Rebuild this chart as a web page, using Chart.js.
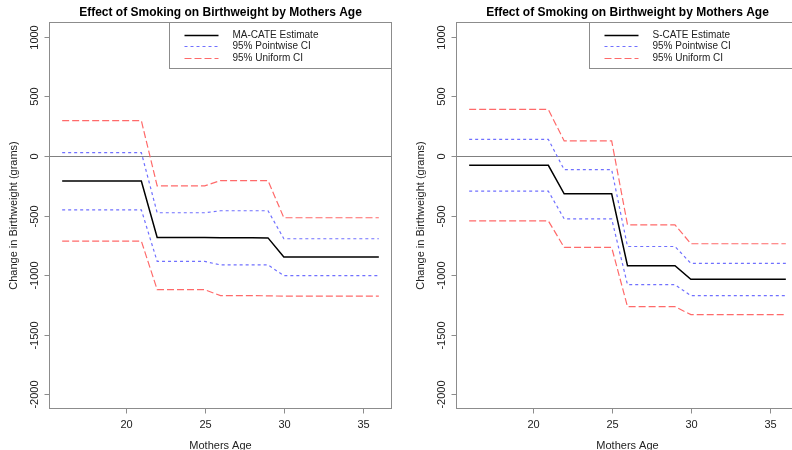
<!DOCTYPE html>
<html>
<head>
<meta charset="utf-8">
<script src="https://cdn.jsdelivr.net/npm/chart.js@4/dist/chart.umd.min.js"></script>
<style>
  html, body { margin: 0; padding: 0; background: #fff; overflow: hidden; }
  #wrap { position: relative; width: 814px; height: 450px; }
  canvas { position: absolute; top: 0; }
</style>
</head>
<body>
<div id="wrap">
  <canvas id="left" width="407" height="450" style="left:0"></canvas>
  <canvas id="right" width="407" height="450" style="left:407px"></canvas>
</div>
<script>
// mothers age, one point per year
const ages = [16, 17, 18, 19, 20, 21, 22, 23, 24, 25, 26, 27, 28, 29, 30, 31, 32, 33, 34, 35, 36];

// MA-CATE panel
const maEstimate = [-210, -210, -210, -210, -210, -210, -684, -684, -685, -685, -686, -686, -687, -688, -849, -849, -849, -849, -849, -849, -849];
const maPointUpper = [28, 28, 28, 28, 28, 28, -477, -477, -477, -477, -460, -460, -460, -460, -695, -695, -695, -695, -695, -695, -695];
const maPointLower = [-452, -452, -452, -452, -452, -452, -885, -885, -885, -885, -915, -915, -915, -915, -1005, -1005, -1005, -1005, -1005, -1005, -1005];
const maUnifUpper = [296, 296, 296, 296, 296, 296, -251, -251, -251, -251, -207, -207, -207, -207, -519, -519, -519, -519, -519, -519, -519];
const maUnifLower = [-715, -715, -715, -715, -715, -715, -1122, -1122, -1122, -1122, -1173, -1173, -1173, -1174, -1177, -1177, -1177, -1177, -1177, -1177, -1177];

// S-CATE panel
const sEstimate = [-79, -79, -79, -79, -79, -79, -318, -318, -318, -318, -921, -921, -921, -921, -1036, -1036, -1036, -1036, -1036, -1036, -1036];
const sPointUpper = [139, 139, 139, 139, 139, 139, -115, -115, -115, -115, -760, -760, -760, -760, -902, -902, -902, -902, -902, -902, -902];
const sPointLower = [-296, -296, -296, -296, -296, -296, -528, -528, -528, -528, -1081, -1081, -1081, -1081, -1173, -1173, -1173, -1173, -1173, -1173, -1173];
const sUnifUpper = [390, 390, 390, 390, 390, 390, 126, 126, 126, 126, -578, -578, -578, -578, -737, -737, -737, -737, -737, -737, -737];
const sUnifLower = [-545, -545, -545, -545, -545, -545, -768, -768, -768, -768, -1265, -1265, -1265, -1265, -1332, -1332, -1332, -1332, -1332, -1332, -1332];

const xTicks = [20, 25, 30, 35];
const yTicks = [-2000, -1500, -1000, -500, 0, 500, 1000];
const titleText = "Effect of Smoking on Birthweight by Mothers Age";
const xLabel = "Mothers Age";
const yLabel = "Change in Birthweight (grams)";
const maLegend = ["MA-CATE Estimate", "95% Pointwise CI", "95% Uniform CI"];
const sLegend = ["S-CATE Estimate", "95% Pointwise CI", "95% Uniform CI"];

const FONT = '"Liberation Sans", Arial, sans-serif';
const BLUE = "#7070ff";
const RED = "#ff6a6a";

function pts(values) {
  return values.map((v, i) => ({ x: ages[i], y: v }));
}

// R style frame: box, ticks, labels, title, legend
const rFrame = {
  id: "rFrame",
  beforeDatasetsDraw(chart) {
    const { ctx, chartArea: a, scales } = chart;
    const y0 = Math.round(scales.y.getPixelForValue(0)) + 0.5;
    ctx.save();
    ctx.strokeStyle = "#808080";
    ctx.lineWidth = 1;
    ctx.beginPath();
    ctx.moveTo(a.left, y0);
    ctx.lineTo(a.right, y0);
    ctx.stroke();
    ctx.restore();
  },
  afterDatasetsDraw(chart, args, opts) {
    const { ctx, chartArea: a, scales } = chart;
    ctx.save();
    ctx.strokeStyle = "#8c8c8c";
    ctx.lineWidth = 1;
    ctx.strokeRect(a.left, a.top, a.right - a.left, a.bottom - a.top);

    ctx.fillStyle = "#222";
    ctx.font = "11px " + FONT;
    ctx.textAlign = "center";
    ctx.textBaseline = "middle";

    xTicks.forEach((t) => {
      const px = Math.round(scales.x.getPixelForValue(t)) + 0.5;
      ctx.beginPath();
      ctx.moveTo(px, a.bottom);
      ctx.lineTo(px, a.bottom + 5);
      ctx.stroke();
      ctx.fillText(String(t), px, a.bottom + 16);
    });

    yTicks.forEach((t) => {
      const py = Math.round(scales.y.getPixelForValue(t)) + 0.5;
      ctx.beginPath();
      ctx.moveTo(a.left, py);
      ctx.lineTo(a.left - 5, py);
      ctx.stroke();
      ctx.save();
      ctx.translate(a.left - 15, py);
      ctx.rotate(-Math.PI / 2);
      ctx.fillText(String(t), 0, 0);
      ctx.restore();
    });

    ctx.fillText(xLabel, (a.left + a.right) / 2, a.bottom + 37);
    ctx.save();
    ctx.translate(a.left - 36, (a.top + a.bottom) / 2);
    ctx.rotate(-Math.PI / 2);
    ctx.fillText(yLabel, 0, 0);
    ctx.restore();

    ctx.fillStyle = "#000";
    ctx.font = "bold 12px " + FONT;
    ctx.fillText(titleText, (a.left + a.right) / 2, a.top - 10);

    // legend
    const lx = Math.round(a.left + opts.legendOffset) + 0.5;
    ctx.strokeStyle = "#8c8c8c";
    ctx.fillStyle = "#fff";
    ctx.fillRect(lx, a.top, a.right - lx, 46);
    ctx.strokeRect(lx, a.top, a.right - lx, 46);
    ctx.font = "10px " + FONT;
    ctx.textAlign = "left";
    const sets = chart.data.datasets;
    opts.labels.forEach((label, i) => {
      const ds = sets[i * 2];
      const ry = Math.round(a.top + 12 + i * 11.5) + 0.5;
      ctx.strokeStyle = ds.borderColor;
      ctx.lineWidth = i === 0 ? 1.5 : 1;
      ctx.setLineDash(ds.borderDash);
      ctx.beginPath();
      ctx.moveTo(lx + 15, ry);
      ctx.lineTo(lx + 49, ry);
      ctx.stroke();
      ctx.setLineDash([]);
      ctx.fillStyle = "#222";
      ctx.fillText(label, lx + 63, ry);
    });
    ctx.restore();
  },
};

function lineSet(data, color, width, dash) {
  return {
    data: pts(data),
    borderColor: color,
    borderWidth: width,
    borderDash: dash,
    pointRadius: 0,
    tension: 0,
    fill: false,
  };
}

function makePanel(id, series, labels, legendOffset) {
  new Chart(document.getElementById(id).getContext("2d"), {
    type: "line",
    data: {
      // order: estimate, pointwise upper/lower, uniform upper/lower
      datasets: [
        lineSet(series[0], "#000", 1.5, []),
        lineSet(series[1], BLUE, 1.2, [3, 3]),
        lineSet(series[2], BLUE, 1.2, [3, 3]),
        lineSet(series[3], RED, 1.2, [7, 3]),
        lineSet(series[4], RED, 1.2, [7, 3]),
      ],
    },
    options: {
      responsive: false,
      animation: false,
      layout: { padding: { left: 49.5, right: 15.5, top: 22.5, bottom: 41.5 } },
      scales: {
        x: { type: "linear", min: 15.2, max: 36.8, display: false },
        y: { type: "linear", min: -2120, max: 1120, display: false },
      },
      plugins: {
        legend: { display: false },
        tooltip: { enabled: false },
        rFrame: { labels, legendOffset },
      },
    },
    plugins: [rFrame],
  });
}

makePanel("left", [maEstimate, maPointUpper, maPointLower, maUnifUpper, maUnifLower], maLegend, 119.5);
makePanel("right", [sEstimate, sPointUpper, sPointLower, sUnifUpper, sUnifLower], sLegend, 132.5);
</script>
</body>
</html>
